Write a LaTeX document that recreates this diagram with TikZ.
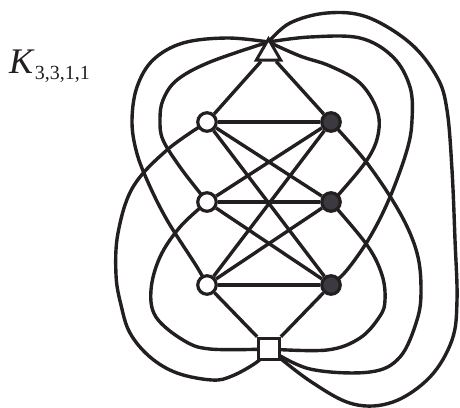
\documentclass[tikz,border=0pt]{standalone}
\usepackage{fontspec}
\setmainfont{Liberation Serif}
\usetikzlibrary{shapes.geometric,backgrounds}
\definecolor{ink}{RGB}{35,31,32}
\definecolor{dot}{RGB}{58,58,64}
\begin{document}
\begin{tikzpicture}[x=1pt,y=-1pt,
  edge/.style={draw=ink,line width=3.4pt,line join=round},
  wv/.style={circle,draw=ink,fill=white,line width=3.2pt,minimum size=18.5pt,inner sep=0pt},
  bv/.style={wv,fill=dot},
  tv/.style={regular polygon,regular polygon sides=3,draw=ink,fill=white,line width=3pt,minimum size=28pt,inner sep=0pt},
  sv/.style={rectangle,draw=ink,fill=white,line width=3pt,minimum size=21.5pt,inner sep=0pt}]
\useasboundingbox (0,0) rectangle (460,407);
% vertices
\node[tv] (T) at (268.5,53) {};
\node[sv] (S) at (269,349) {};
\node[wv] (w1) at (207,122) {};
\node[wv] (w2) at (207,202) {};
\node[wv] (w3) at (207,285) {};
\node[bv] (b1) at (331,122) {};
\node[bv] (b2) at (331,202) {};
\node[bv] (b3) at (331,285) {};
\coordinate (Tin) at ([yshift=-6pt]T.north);
% label
\node[anchor=base west,text=ink,inner sep=0pt] (lbl) at (9,73) {\fontsize{36}{36}\selectfont\textit{K}\raisebox{-6pt}{\fontsize{20}{20}\selectfont 3,3,1,1}};
\begin{scope}[on background layer]
  \foreach \a in {w1,w2,w3} \foreach \b in {b1,b2,b3} \draw[edge] (\a) -- (\b);
  \draw[edge] (T) -- (w1);
  \draw[edge] (T) -- (b1);
  \draw[edge] (S) -- (w3);
  \draw[edge] (S) -- (b3);
  % T - w3
  \draw[edge] plot[smooth,tension=0.6] coordinates {(Tin) (227,38) (183,43) (153,60) (137,87) (132,120) (136,150) (147,180) (167,220) (197,267) (w3.center)};
  % T - w2
  \draw[edge] plot[smooth,tension=0.6] coordinates {(Tin) (210,62) (177,80) (163,100) (160,120) (163,140) (180,167) (200,193) (w2.center)};
  % S - w1
  \draw[edge] plot[smooth,tension=0.6] coordinates {(w1.center) (167,150) (133,187) (118,233) (116,275) (121,305) (130,333) (150,357) (177,373) (212,380) (232,376) (257,362) (S.center)};
  % S - w2
  \draw[edge] plot[smooth,tension=0.6] coordinates {(w2.center) (180,227) (160,257) (151,290) (156,317) (183,340) (210,349) (S.center)};
  % T - b2
  \draw[edge] plot[smooth,tension=0.6] coordinates {(Tin) (300,56) (330,66) (360,83) (377,110) (378,135) (367,160) (340,193) (b2.center)};
  % T - b3
  \draw[edge] plot[smooth,tension=0.6] coordinates {(Tin) (310,37) (360,38) (393,57) (410,87) (412,120) (407,150) (390,197) (370,237) (347,270) (b3.center)};
  % T - S
  \draw[edge] plot[smooth,tension=0.6] coordinates {(Tin) (290,23) (327,13) (367,17) (410,43) (437,77) (447,110) (452,170) (455,240) (457,300) (452,340) (430,377) (393,402) (353,404) (310,381) (S.center)};
  % S - b1
  \draw[edge] plot[smooth,tension=0.6] coordinates {(b1.center) (367,163) (400,213) (417,253) (421,290) (417,320) (400,357) (370,372) (310,369) (S.center)};
  % S - b2
  \draw[edge] plot[smooth,tension=0.6] coordinates {(b2.center) (367,245) (382,275) (385,300) (380,316) (360,338) (327,350) (S.center)};
\end{scope}
\end{tikzpicture}
\end{document}
